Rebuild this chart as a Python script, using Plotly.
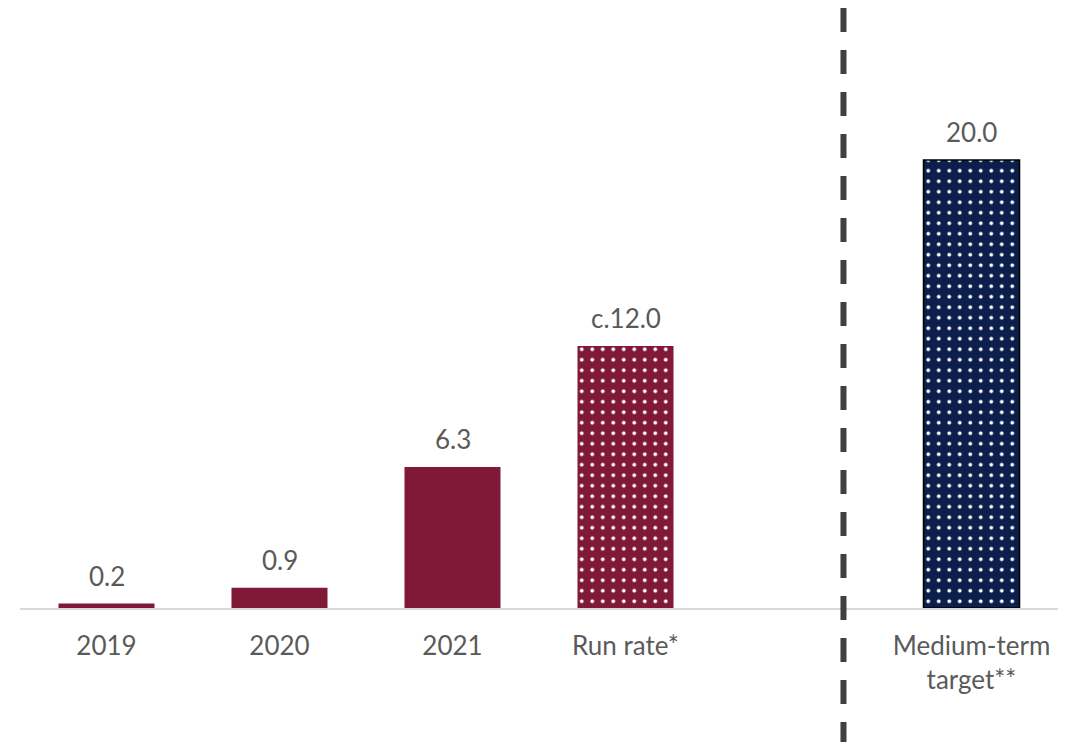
import plotly.graph_objects as go

categories = ["2019", "2020", "2021", "Run rate*", " ", "Medium-term<br>target**"]
values = [0.2, 0.9, 6.3, 11.7, None, 20.0]
value_labels = ["0.2", "0.9", "6.3", "c.12.0", "", "20.0"]
bar_colors = ["#801838", "#801838", "#801838", "#801838", "#801838", "#0C1E4C"]
dotted = [False, False, False, True, False, True]
outline = [0, 0, 0, 0, 0, 1.5]
separator_pos = 4.26

fig = go.Figure()
for cat, val, col, dot, ol in zip(categories, values, bar_colors, dotted, outline):
    if val is None:
        continue
    marker = dict(color=col, line=dict(color="#000000", width=ol))
    if dot:
        marker["pattern"] = dict(shape=".", fgcolor="#FFFFFF", bgcolor=col,
                                 size=10.5, solidity=0.1, fillmode="replace")
    fig.add_trace(go.Bar(x=[cat], y=[val], marker=marker, width=0.555,
                         showlegend=False, hoverinfo="skip"))

for i, (val, lab) in enumerate(zip(values, value_labels)):
    if val is None:
        continue
    fig.add_annotation(x=i, y=val, text=lab, showarrow=False, yanchor="bottom",
                       yshift=10, font=dict(family="Lato", size=26, color="#5A5A5A"))

fig.add_shape(type="line", xref="x", yref="paper", x0=separator_pos, x1=separator_pos,
              y0=1.0, y1=-0.25, line=dict(color="#404040", width=6, dash="24px,18px"))

fig.update_layout(
    width=1066, height=742,
    margin=dict(l=20, r=8, t=8, b=134),
    paper_bgcolor="white", plot_bgcolor="white",
    barmode="overlay",
    xaxis=dict(type="category", categoryorder="array", categoryarray=categories,
               range=[-0.5, 5.5], showline=True, linecolor="#D9D9D9", linewidth=1.5,
               showgrid=False, ticks="outside", ticklen=14, tickcolor="rgba(0,0,0,0)",
               tickfont=dict(family="Lato", size=26, color="#5A5A5A")),
    yaxis=dict(range=[0, 26.79], visible=False, showgrid=False, zeroline=False),
)

fig.write_html("out.html")
